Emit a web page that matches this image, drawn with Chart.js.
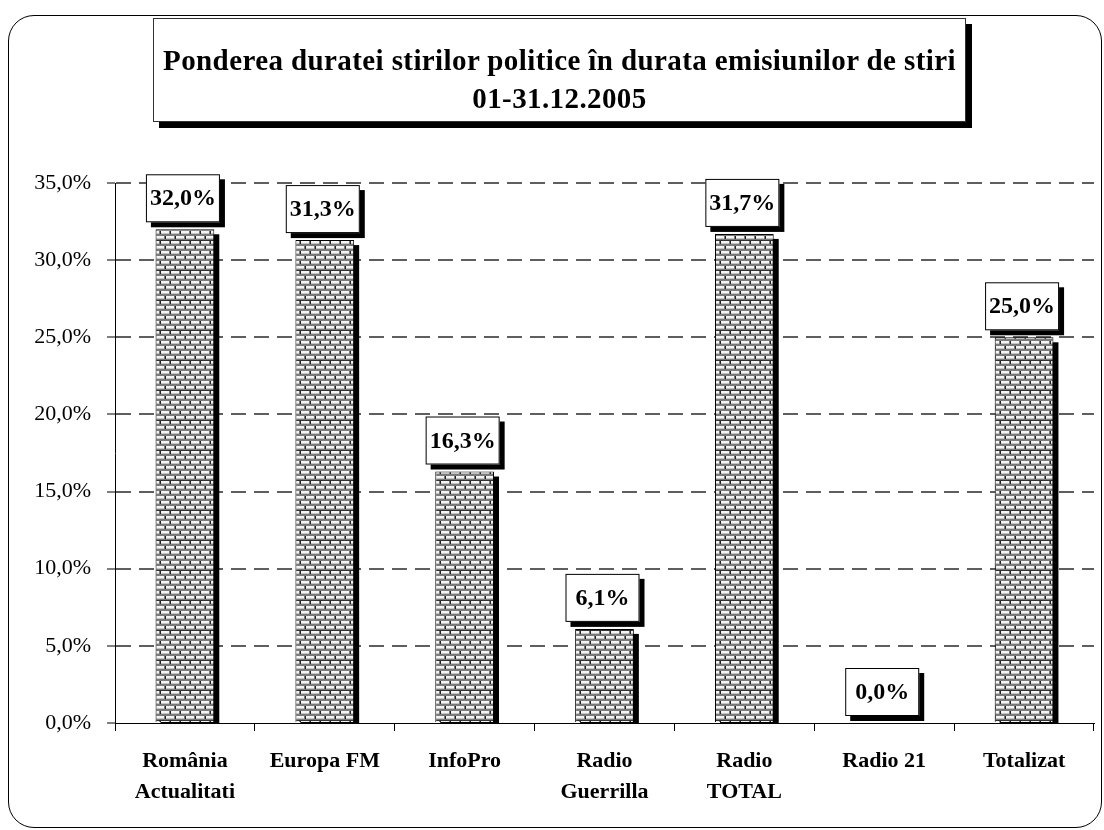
<!DOCTYPE html>
<html>
<head>
<meta charset="utf-8">
<script src="https://cdn.jsdelivr.net/npm/chart.js@4.4.1/dist/chart.umd.min.js"></script>
<style>
  html, body { margin: 0; padding: 0; background: #fff; }
  #wrap { position: relative; width: 1104px; height: 830px; overflow: hidden; }
  #chart { position: absolute; left: 0; top: 0; }
  .frame {
    position: absolute; left: 8px; top: 15px; width: 1092px; height: 811px;
    border: 1.5px solid #000; border-radius: 26px; pointer-events: none;
  }
  .title {
    position: absolute; left: 153px; top: 18px; width: 813px; height: 104px;
    box-sizing: border-box; padding-top: 22px;
    border: 1px solid #333; background: #fff; box-shadow: 6px 6px 0 #000;
    font-family: "Liberation Serif", "Times New Roman", serif; font-weight: bold;
    font-size: 29px; line-height: 38px; text-align: center; letter-spacing: 0.4px;
    white-space: nowrap;
  }
</style>
</head>
<body>
<div id="wrap">
  <canvas id="chart" width="1104" height="830"></canvas>
  <div class="frame"></div>
  <div class="title">
    <div>Ponderea duratei stirilor politice în durata emisiunilor de stiri</div>
    <div>01-31.12.2005</div>
  </div>
</div>
<script>
const categories = [['România', 'Actualitati'], 'Europa FM', 'InfoPro', ['Radio', 'Guerrilla'], ['Radio', 'TOTAL'], 'Radio 21', 'Totalizat'];
const shares = [32.0, 31.3, 16.3, 6.1, 31.7, 0.0, 25.0];
const yTicks = [0, 5, 10, 15, 20, 25, 30, 35];

const fmt = v => v.toFixed(1).replace('.', ',') + '%';
const serif = '"Liberation Serif", "Times New Roman", serif';

// brick pattern for the bars
function brickPattern() {
    const c = document.createElement('canvas');
    c.width = 10; c.height = 30;
    const g = c.getContext('2d');
    g.fillStyle = '#7a7a7a';
    g.fillRect(0, 0, 10, 30);
    for (let r = 0; r < 6; r++) {
        const y = r * 5;
        const off = (r % 2) ? 5 : 0;
        for (let x = -10; x < 10; x += 10) {
            g.fillStyle = '#f4f4f4';
            g.fillRect(x + off + 1, y + 1, 8, 2);
            g.fillStyle = '#c4c4c4';
            g.fillRect(x + off + 1, y + 3, 8, 1);
            g.fillStyle = '#222';
            g.fillRect(x + off, y + 1, 1, 3);
        }
    }
    g.fillStyle = '#333';
    g.fillRect(0, 0, 10, 1);
    return g.createPattern(c, 'repeat');
}

const shadowPlugin = {
    id: 'shadows',
    beforeDatasetsDraw(chart) {
        const ctx = chart.ctx;
        const meta = chart.getDatasetMeta(0);
        const base = chart.scales.y.getPixelForValue(0);
        ctx.save();
        ctx.fillStyle = '#000';
        meta.data.forEach(bar => {
            const w = bar.width;
            const top = bar.y + 5;
            if (base - top > 0) ctx.fillRect(bar.x - w / 2 + 5, top, w, base - top);
        });
        ctx.restore();
    },
    afterDatasetsDraw(chart) {
        const ctx = chart.ctx;
        const meta = chart.getDatasetMeta(0);
        ctx.save();
        ctx.font = 'bold 24px ' + serif;
        ctx.textAlign = 'center';
        ctx.textBaseline = 'middle';
        meta.data.forEach((bar, i) => {
            const bw = 74, bh = 48;
            const cx = bar.x - 2;
            const bottom = bar.y - 7;
            const x = cx - bw / 2, y = bottom - bh;
            ctx.fillStyle = '#000';
            ctx.fillRect(x + 5, y + 5, bw, bh);
            ctx.fillStyle = '#fff';
            ctx.fillRect(x, y, bw, bh);
            ctx.strokeStyle = '#000';
            ctx.lineWidth = 1;
            ctx.strokeRect(x + 0.5, y + 0.5, bw - 1, bh - 1);
            ctx.fillStyle = '#000';
            ctx.fillText(fmt(shares[i]), cx, y + bh / 2 + 1);
        });
        ctx.restore();
    }
};

new Chart(document.getElementById('chart').getContext('2d'), {
    type: 'bar',
    data: {
        labels: categories,
        datasets: [{
            data: shares,
            backgroundColor: brickPattern(),
            borderColor: '#000',
            borderWidth: 1,
            barPercentage: 0.42,
            categoryPercentage: 1
        }]
    },
    options: {
        responsive: false,
        animation: false,
        layout: { padding: { top: 183, right: 10, left: 0, bottom: 0 } },
        plugins: { legend: { display: false }, tooltip: { enabled: false } },
        scales: {
            x: {
                grid: { drawOnChartArea: false, drawTicks: true, tickLength: 8, color: '#000' },
                border: { color: '#000', width: 1 },
                ticks: { color: '#000', padding: 15, font: { family: serif, size: 22, weight: 'bold', lineHeight: 1.4 } },
                afterFit(s) { s.height = 107; }
            },
            y: {
                min: 0, max: 35,
                afterBuildTicks(s) { s.ticks = yTicks.map(v => ({ value: v })); },
                grid: {
                    color: c => c.tick && c.tick.value === 0 ? 'rgba(0,0,0,0)' : '#5e5e5e',
                    lineWidth: 2,
                    tickLength: 8,
                    tickColor: '#000',
                    tickWidth: 1,
                    tickBorderDash: []
                },
                border: { color: '#000', width: 1, dash: [15, 8] },
                ticks: { color: '#000', padding: 16, callback: v => fmt(v), font: { family: serif, size: 22 } },
                afterFit(s) { s.width = 115; }
            }
        }
    },
    plugins: [shadowPlugin]
});
</script>
</body>
</html>
